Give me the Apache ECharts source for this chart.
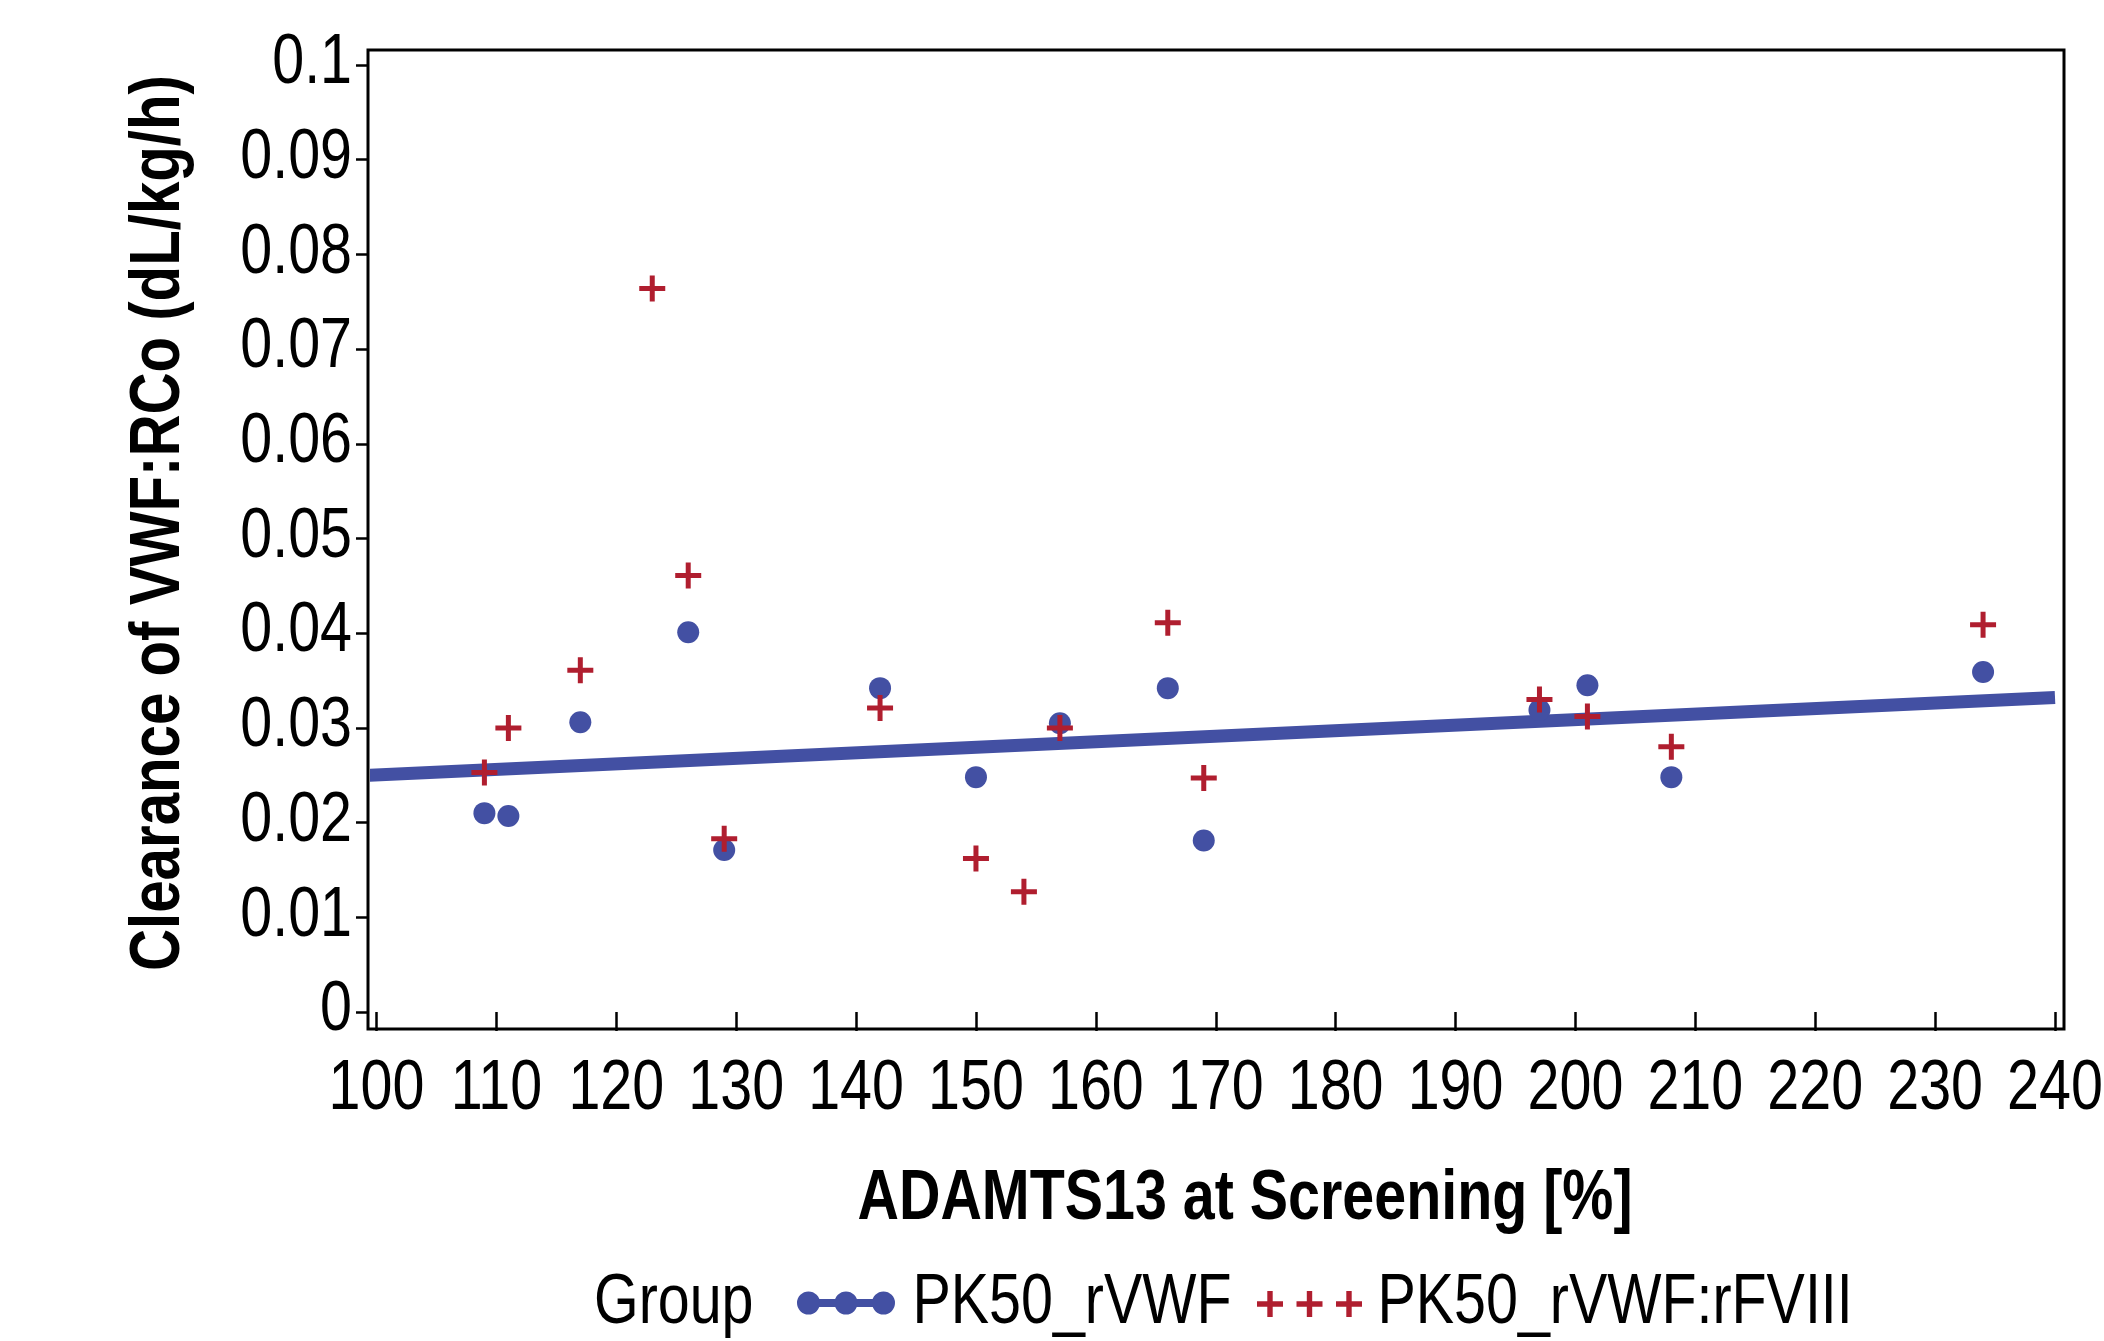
<!DOCTYPE html>
<html>
<head>
<meta charset="utf-8">
<script src="https://cdn.jsdelivr.net/npm/echarts@6/dist/echarts.min.js"></script>
<style>
html,body{margin:0;padding:0;background:#fff;}
#chart{width:2104px;height:1341px;}
</style>
</head>
<body>
<div id="chart"></div>
<script>
// ---- data ----
const blueX = [109, 111, 117, 126, 129, 142, 150, 157, 166, 169, 197, 201, 208, 234];
const blueY = [0.0210, 0.0207, 0.0306, 0.0401, 0.0171, 0.0342, 0.0248, 0.0305, 0.0342, 0.0181, 0.0319, 0.0345, 0.0248, 0.0359];
const redX = [109, 111, 117, 123, 126, 129, 142, 150, 154, 157, 166, 169, 197, 201, 208, 234];
const redY = [0.0253, 0.0300, 0.0361, 0.0764, 0.0461, 0.0183, 0.0321, 0.0162, 0.0127, 0.0300, 0.0411, 0.0247, 0.0330, 0.0312, 0.0280, 0.0409];
const fitX = [99.3, 240];
const fitY = [0.0250, 0.0332];
const xTicks = [100, 110, 120, 130, 140, 150, 160, 170, 180, 190, 200, 210, 220, 230, 240];
const yTicks = [0, 0.01, 0.02, 0.03, 0.04, 0.05, 0.06, 0.07, 0.08, 0.09, 0.1];
const xTickLabels = ['100', '110', '120', '130', '140', '150', '160', '170', '180', '190', '200', '210', '220', '230', '240'];
const yTickLabels = ['0', '0.01', '0.02', '0.03', '0.04', '0.05', '0.06', '0.07', '0.08', '0.09', '0.1'];
const seriesNames = ['PK50_rVWF', 'PK50_rVWF:rFVIII'];
const legendTitle = 'Group';
const xTitle = 'ADAMTS13 at Screening [%]';
const yTitle = 'Clearance of VWF:RCo (dL/kg/h)';

const BLUE = '#4350A3';
const RED = '#B01E2F';
const FONT = "'Liberation Sans', Arial, sans-serif";
const NARROW = 0.82;   // emulate a narrow (condensed) face

const zip = (a, b) => a.map((v, i) => [v, b[i]]);

function plusPath(ox, s, t) {
  const a = (s - t) / 2;
  return `M${ox + a},0 h${t} v${a} h${a} v${t} h${-a} v${a} h${-t} v${-a} h${-a} v${-t} h${a} Z`;
}
function circlePath(cx, cy, r) {
  return `M${cx - r},${cy} A${r},${r} 0 1 1 ${cx + r},${cy} A${r},${r} 0 1 1 ${cx - r},${cy} Z`;
}
const plusSymbol = 'path://' + plusPath(0, 26, 5);
const r = 11.5;
const icon1 = 'path://' + circlePath(r, r, r) + ' ' + circlePath(49, r, r) + ' ' + circlePath(98 - r, r, r) +
  ` M${r + 8},${r - 4} L${49 - 8},${r - 4} L${49 - 8},${r + 4} L${r + 8},${r + 4} Z` +
  ` M${49 + 8},${r - 4} L${98 - r - 8},${r - 4} L${98 - r - 8},${r + 4} L${49 + 8},${r + 4} Z`;
const icon2 = 'path://' + plusPath(0, 26, 5.4) + ' ' + plusPath(39.5, 26, 5.4) + ' ' + plusPath(79, 26, 5.4);

const chart = echarts.init(document.getElementById('chart'), null, {renderer: 'canvas'});
const hiddenLegendText = {fontSize: 1, lineHeight: 1, color: 'rgba(0,0,0,0)'};
chart.setOption({
  animation: false,
  backgroundColor: '#fff',
  grid: [
    // frame
    {left: 368, right: 40, top: 50, bottom: 312, show: true, borderColor: '#000', borderWidth: 3, backgroundColor: 'transparent'},
    // data area (100..240, 0..0.1)
    {left: 376.5, right: 49, top: 65, bottom: 329, show: false}
  ],
  xAxis: [
    {gridIndex: 0, type: 'value', show: false, min: 0, max: 1},
    {gridIndex: 1, type: 'value', min: 100, max: 240, interval: 10, position: 'bottom', offset: 17,
     axisLine: {show: false},
     axisTick: {show: true, length: 19, lineStyle: {color: '#000', width: 2.5}},
     axisLabel: {show: false}, splitLine: {show: false}}
  ],
  yAxis: [
    {gridIndex: 0, type: 'value', show: false, min: 0, max: 1},
    {gridIndex: 1, type: 'value', min: 0, max: 0.1, interval: 0.01, position: 'left', offset: 8.5,
     axisLine: {show: false},
     axisTick: {show: true, length: 12, lineStyle: {color: '#000', width: 2.5}},
     axisLabel: {show: false}, splitLine: {show: false}}
  ],
  legend: [
    {data: [{name: seriesNames[0], icon: icon1}], left: 797, top: 1291.5, padding: 0,
     itemWidth: 98, itemHeight: 23, formatter: () => '', textStyle: hiddenLegendText, selectedMode: false},
    {data: [{name: seriesNames[1], icon: icon2}], left: 1257, top: 1291, padding: 0,
     itemWidth: 105, itemHeight: 26, formatter: () => '', textStyle: hiddenLegendText, selectedMode: false}
  ],
  series: [
    {name: 'fit', type: 'line', xAxisIndex: 1, yAxisIndex: 1, data: zip(fitX, fitY), showSymbol: false, symbol: 'none',
     z: 1, clip: false, lineStyle: {color: BLUE, width: 13, cap: 'butt'}, itemStyle: {color: BLUE}, silent: true},
    {name: seriesNames[0], type: 'scatter', xAxisIndex: 1, yAxisIndex: 1, data: zip(blueX, blueY),
     symbol: 'circle', symbolSize: 22, z: 2, itemStyle: {color: BLUE, opacity: 1}},
    {name: seriesNames[1], type: 'scatter', xAxisIndex: 1, yAxisIndex: 1, data: zip(redX, redY),
     symbol: plusSymbol, symbolSize: 26, z: 3, itemStyle: {color: RED, opacity: 1}}
  ]
});

// ---- text drawn as (horizontally condensed) graphic text, placed via the axes' own scales ----
function txt(text, x, y, size, opts) {
  opts = opts || {};
  return {
    type: 'text', x: x, y: y, scaleX: NARROW, rotation: opts.rotation || 0, z: 10, silent: true,
    style: {text: text, fontFamily: FONT, fontSize: size, fontWeight: opts.bold ? 'bold' : 'normal',
      fill: '#000', align: opts.align || 'center', verticalAlign: 'middle'}
  };
}
const g = [];
xTicks.forEach((v, i) => {
  const px = chart.convertToPixel({xAxisIndex: 1}, v);
  g.push(txt(xTickLabels[i], px, 1090, 70));
});
yTicks.forEach((v, i) => {
  const py = chart.convertToPixel({yAxisIndex: 1}, v);
  g.push(txt(yTickLabels[i], 352, py - 1, 70, {align: 'right'}));
});
g.push(txt(xTitle, 1245, 1200, 70, {bold: true}));
g.push(txt(yTitle, 159, 523, 71, {bold: true, rotation: Math.PI / 2}));
g.push(txt(legendTitle, 594, 1304, 70, {align: 'left'}));
g.push(txt(seriesNames[0], 912.5, 1304, 70, {align: 'left'}));
g.push(txt(seriesNames[1], 1377.5, 1304, 70, {align: 'left'}));
chart.setOption({graphic: g});
</script>
</body>
</html>
